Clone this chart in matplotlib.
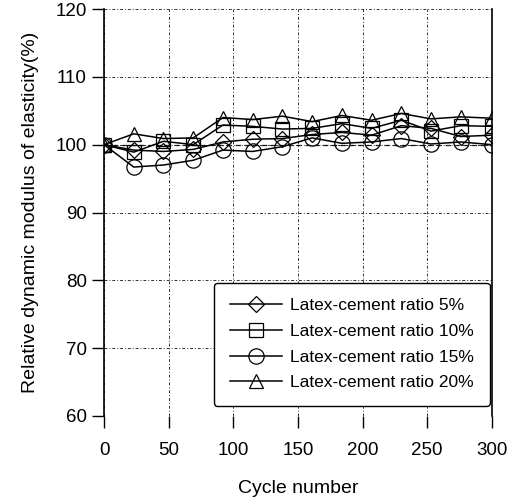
import matplotlib.pyplot as plt

plt.rcParams['font.family'] = ['Liberation Sans', 'DejaVu Sans']

cycles = [0, 23, 46, 69, 92, 115, 138, 161, 184, 207, 230, 253, 276, 300]
ratio_5 = [100, 99.2, 99.0, 99.3, 100.4, 100.8, 100.9, 101.5, 101.8, 101.4, 102.8, 102.4, 101.2, 101.4]
ratio_10 = [100, 98.9, 100.5, 100.0, 102.9, 102.7, 102.3, 102.4, 103.1, 102.4, 103.6, 102.0, 102.8, 102.7]
ratio_15 = [100, 96.7, 97.0, 97.7, 99.2, 99.0, 99.7, 101.0, 100.2, 100.4, 100.9, 100.1, 100.4, 100.0]
ratio_20 = [100, 101.6, 100.9, 101.0, 104.0, 103.7, 104.2, 103.4, 104.3, 103.6, 104.6, 103.8, 104.1, 103.9]

fig = plt.figure(figsize=(5.15, 5.0), dpi=100)
ax = fig.add_axes([0.202, 0.168, 0.753, 0.814])

series = [
    (ratio_5, 'D', 'Latex-cement ratio 5%', 8),
    (ratio_10, 's', 'Latex-cement ratio 10%', 10),
    (ratio_15, 'o', 'Latex-cement ratio 15%', 11),
    (ratio_20, '^', 'Latex-cement ratio 20%', 10),
]
for vals, mk, lab, ms in series:
    ax.plot(cycles, vals, color='black', lw=1.1, marker=mk, ms=ms,
            mfc='none', mec='black', mew=0.9, label=lab)

ax.set_xlim(0, 300)
ax.set_ylim(60, 120)
ax.set_xticks(range(0, 301, 50))
ax.set_yticks(range(60, 121, 10))
ax.tick_params(direction='out', length=8.5, width=1, labelsize=13.5)
ax.tick_params(axis='y', pad=4)
ax.tick_params(axis='x', pad=10)

ax.grid(True, color='#333333', lw=0.7, linestyle=(0, (3, 2, 1, 2)))
ax.axhline(100, color='black', lw=0.9, linestyle=(0, (4, 3)), zorder=1)
for side in ['top', 'bottom']:
    ax.spines[side].set_visible(False)
ax.spines['left'].set_linewidth(1.2)
ax.spines['right'].set_linewidth(1.2)

ax.set_xlabel('Cycle number', fontsize=14, labelpad=15)
ax.set_ylabel('Relative dynamic modulus of elasticity(%)', fontsize=14, labelpad=12)

leg = ax.legend(loc='lower right', bbox_to_anchor=(0.995, 0.025), borderaxespad=0,
                fontsize=12.5, frameon=True, fancybox=True, edgecolor='black',
                framealpha=1, handlelength=3.0, handletextpad=0.5, borderpad=0.9,
                labelspacing=0.6)
leg.get_frame().set_linewidth(1.0)

fig.savefig('out.png', dpi=100)
